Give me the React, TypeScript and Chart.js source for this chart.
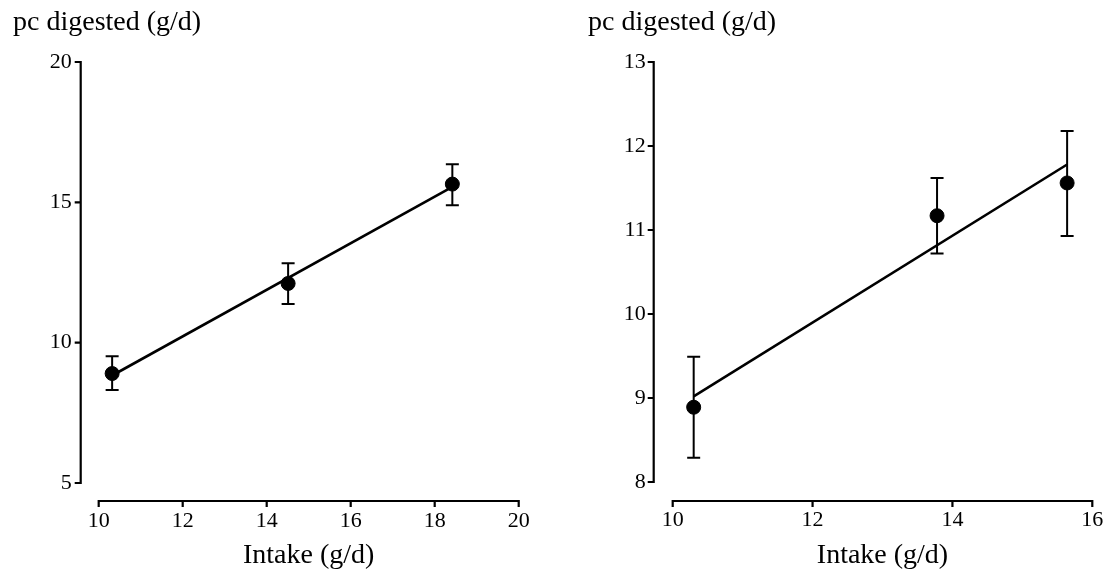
import React, { useEffect, useRef } from "react";
import { Chart, registerables } from "chart.js";

Chart.register(...registerables);

const FONT = '"Liberation Serif", "Times New Roman", serif';

// Left panel
const intakeA = [10.32, 14.51, 18.42];
const digestedA = [8.9, 12.11, 15.65];
const lowerA = [8.31, 11.38, 14.9];
const upperA = [9.52, 12.83, 16.36];
const fitXA = [10.32, 18.42];
const fitYA = [8.83, 15.55];
const xTicksA = [10, 12, 14, 16, 18, 20];
const yTicksA = [5, 10, 15, 20];

// Right panel
const intakeB = [10.3, 13.78, 15.64];
const digestedB = [8.89, 11.17, 11.56];
const lowerB = [8.29, 10.72, 10.93];
const upperB = [9.49, 11.62, 12.18];
const fitXB = [10.3, 15.64];
const fitYB = [9.02, 11.78];
const xTicksB = [10, 12, 14, 16];
const yTicksB = [8, 9, 10, 11, 12, 13];

const yAxisTitle = "pc digested (g/d)";
const xAxisTitle = "Intake (g/d)";

const W = 556;
const H = 576;

type Layout = {
  left: number;
  right: number;
  top: number;
  bottom: number;
  titleX: number;
  gap: number;
};

type PanelProps = {
  intake: number[];
  digested: number[];
  lower: number[];
  upper: number[];
  fitX: number[];
  fitY: number[];
  xTicks: number[];
  yTicks: number[];
  L: Layout;
  offsetX: number;
};

function Panel(props: PanelProps) {
  const ref = useRef<HTMLCanvasElement | null>(null);
  useEffect(() => {
    const { intake, digested, lower, upper, fitX, fitY, xTicks, yTicks, L } = props;
    const canvas = ref.current;
    if (!canvas) return;

    const decor = {
      id: "decor",
      beforeDatasetsDraw(chart: any) {
        const { ctx } = chart;
        const xs = chart.scales.x;
        const ys = chart.scales.y;
        ctx.save();
        ctx.strokeStyle = "#000";
        ctx.lineWidth = 2;
        // error bars
        for (let i = 0; i < intake.length; i++) {
          const px = xs.getPixelForValue(intake[i]);
          const pl = ys.getPixelForValue(lower[i]);
          const pu = ys.getPixelForValue(upper[i]);
          ctx.beginPath();
          ctx.moveTo(px, pl);
          ctx.lineTo(px, pu);
          ctx.moveTo(px - 6.5, pl);
          ctx.lineTo(px + 6.5, pl);
          ctx.moveTo(px - 6.5, pu);
          ctx.lineTo(px + 6.5, pu);
          ctx.stroke();
        }
        ctx.restore();
      },
      afterDraw(chart: any) {
        const { ctx, chartArea } = chart;
        const xs = chart.scales.x;
        const ys = chart.scales.y;
        ctx.save();
        ctx.strokeStyle = "#000";
        ctx.lineWidth = 2.2;
        const ax = chartArea.left - L.gap;
        const ay = chartArea.bottom + L.gap;
        // y axis
        ctx.beginPath();
        ctx.moveTo(ax, ys.getPixelForValue(yTicks[0]) + 1);
        ctx.lineTo(ax, ys.getPixelForValue(yTicks[yTicks.length - 1]) - 1);
        for (const v of yTicks) {
          const py = ys.getPixelForValue(v);
          ctx.moveTo(ax + 1, py);
          ctx.lineTo(ax - 6, py);
        }
        // x axis
        ctx.moveTo(xs.getPixelForValue(xTicks[0]) - 1, ay);
        ctx.lineTo(xs.getPixelForValue(xTicks[xTicks.length - 1]) + 1, ay);
        for (const v of xTicks) {
          const px = xs.getPixelForValue(v);
          ctx.moveTo(px, ay - 1);
          ctx.lineTo(px, ay + 6);
        }
        ctx.stroke();
        // titles
        ctx.fillStyle = "#000";
        ctx.font = `28px ${FONT}`;
        ctx.textBaseline = "alphabetic";
        ctx.textAlign = "left";
        ctx.fillText(yAxisTitle, L.titleX, 30);
        ctx.textAlign = "center";
        ctx.fillText(xAxisTitle, (chartArea.left + chartArea.right) / 2, 563);
        ctx.restore();
      },
    };

    const chart = new Chart(canvas, {
      type: "scatter",
      data: {
        datasets: [
          {
            type: "line",
            data: fitX.map((x, i) => ({ x, y: fitY[i] })),
            borderColor: "#000",
            borderWidth: 2.6,
            pointRadius: 0,
            fill: false,
            tension: 0,
            order: 2,
          } as any,
          {
            type: "scatter",
            data: intake.map((x, i) => ({ x, y: digested[i] })),
            pointRadius: 7,
            pointHoverRadius: 7,
            backgroundColor: "#000",
            borderColor: "#000",
            borderWidth: 1,
            order: 1,
          } as any,
        ],
      },
      options: {
        responsive: false,
        animation: false,
        events: [],
        layout: {
          padding: { left: 0, top: L.top, right: W - L.right, bottom: 0 },
        },
        plugins: {
          legend: { display: false },
          tooltip: { enabled: false },
          title: { display: false },
        },
        scales: {
          x: {
            type: "linear",
            min: xTicks[0],
            max: xTicks[xTicks.length - 1],
            afterBuildTicks: (s: any) => {
              s.ticks = xTicks.map((v) => ({ value: v }));
            },
            afterFit: (s: any) => {
              s.height = H - L.bottom;
              s.paddingLeft = 0;
              s.paddingRight = 0;
            },
            grid: { display: false, drawTicks: false },
            border: { display: false },
            ticks: {
              padding: 25,
              color: "#000",
              font: { family: FONT, size: 22 },
              maxRotation: 0,
              autoSkip: false,
            },
          },
          y: {
            type: "linear",
            min: yTicks[0],
            max: yTicks[yTicks.length - 1],
            afterBuildTicks: (s: any) => {
              s.ticks = yTicks.map((v) => ({ value: v }));
            },
            afterFit: (s: any) => {
              s.width = L.left;
              s.paddingTop = 0;
              s.paddingBottom = 0;
            },
            grid: { display: false, drawTicks: false },
            border: { display: false },
            ticks: {
              padding: 27,
              color: "#000",
              font: { family: FONT, size: 22 },
              autoSkip: false,
            },
          },
        },
      } as any,
      plugins: [decor],
    });
    return () => chart.destroy();
  }, []);

  return (
    <canvas
      ref={ref}
      width={W}
      height={H}
      style={{ position: "absolute", left: props.offsetX, top: 0, width: W, height: H }}
    />
  );
}

export default function App() {
  return (
    <div
      style={{
        position: "fixed",
        left: 0,
        top: 0,
        width: 1112,
        height: 576,
        background: "#fff",
        overflow: "hidden",
      }}
    >
      <Panel
        intake={intakeA}
        digested={digestedA}
        lower={lowerA}
        upper={upperA}
        fitX={fitXA}
        fitY={fitYA}
        xTicks={xTicksA}
        yTicks={yTicksA}
        L={{ left: 98.7, right: 518.7, top: 62, bottom: 483, titleX: 13, gap: 18 }}
        offsetX={0}
      />
      <Panel
        intake={intakeB}
        digested={digestedB}
        lower={lowerB}
        upper={upperB}
        fitX={fitXB}
        fitY={fitYB}
        xTicks={xTicksB}
        yTicks={yTicksB}
        L={{ left: 116.7, right: 536.3, top: 62, bottom: 482, titleX: 32, gap: 19 }}
        offsetX={556}
      />
    </div>
  );
}
